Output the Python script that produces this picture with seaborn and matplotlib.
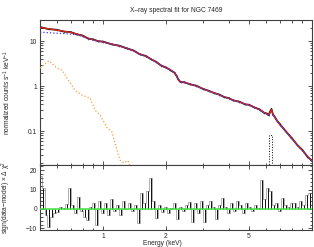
import numpy as np
import pandas as pd
import seaborn as sns
import matplotlib.pyplot as plt
from matplotlib.ticker import FixedLocator, FixedFormatter, NullFormatter

#%% values

# top panel: energy grid (keV), data, total model and the power-law component
energy = [0.50, 0.55, 0.60, 0.65, 0.70, 0.75, 0.80, 0.85, 0.90, 0.95, 1.00, 1.10,
          1.20, 1.30, 1.40, 1.50, 1.60, 1.70, 1.80, 1.90, 2.00, 2.10, 2.20, 2.25,
          2.30, 2.35, 2.45, 2.60, 2.80, 3.00, 3.20, 3.40, 3.60, 3.80, 4.00, 4.20,
          4.50, 4.80, 5.00, 5.30, 5.60, 5.90, 6.10, 6.20, 6.30, 6.40, 6.50, 6.60,
          6.80, 7.00, 7.50, 8.00, 8.50, 9.00, 9.50, 10.0]
counts = [20.6, 18.5, 17.9, 16.3, 15.9, 14.2, 13.3, 11.4, 10.9, 9.9, 9.8, 8.5,
          7.9, 6.9, 6.2, 5.1, 4.7, 3.95, 3.45, 2.85, 2.6, 2.28, 1.98, 1.68,
          1.37, 1.23, 1.22, 1.10, 1.02, 0.87, 0.79, 0.70, 0.65, 0.57, 0.54, 0.48,
          0.45, 0.39, 0.385, 0.335, 0.305, 0.255, 0.245, 0.225, 0.27, 0.31, 0.235, 0.215,
          0.17, 0.145, 0.098, 0.070, 0.049, 0.038, 0.027, 0.022]
model = [20.0, 18.8, 17.6, 16.6, 15.6, 14.5, 13.0, 11.6, 10.7, 10.1, 9.6, 8.6,
         7.8, 7.0, 6.1, 5.2, 4.6, 4.0, 3.4, 2.9, 2.55, 2.3, 1.95, 1.7,
         1.35, 1.25, 1.2, 1.12, 1.0, 0.88, 0.78, 0.71, 0.64, 0.58, 0.53, 0.49,
         0.44, 0.40, 0.38, 0.34, 0.30, 0.26, 0.24, 0.23, 0.26, 0.30, 0.24, 0.21,
         0.175, 0.14, 0.10, 0.068, 0.050, 0.037, 0.028, 0.021]
powerlaw = [15.8, 15.4, 15.0, 14.7, 14.3, 13.8, 12.6, 11.4, 10.5, 10.0, 9.5, 8.55,
            7.75, 6.95, 6.05, 5.15, 4.55, 3.97, 3.38, 2.88, 2.53, 2.28, 1.93, 1.69,
            1.34, 1.24, 1.19, 1.11, 0.99, 0.875, 0.775, 0.705, 0.635, 0.575, 0.525, 0.485,
            0.435, 0.395, 0.375, 0.335, 0.295, 0.255, 0.235, 0.222, 0.225, 0.226, 0.226, 0.207,
            0.172, 0.138, 0.099, 0.067, 0.049, 0.036, 0.0275, 0.0207]

# soft component (orange dotted)
soft_e = [0.50, 0.552, 0.603, 0.637, 0.673, 0.735, 0.794, 0.869, 0.917, 0.967,
          1.046, 1.104, 1.206, 1.26, 1.316, 1.36]
soft_v = [2.5, 3.65, 2.5, 2.27, 1.5, 0.81, 0.63, 0.54, 0.29, 0.23,
          0.12, 0.096, 0.0227, 0.0197, 0.022, 0.015]

# iron line (black dotted)
line_e = [6.20, 6.24, 6.24, 6.44, 6.44, 6.48]
line_v = [0.001, 0.001, 0.08, 0.08, 0.001, 0.001]

# bottom panel: sign(data-model) * delta chi^2
res_e = [0.500, 0.517, 0.534, 0.552, 0.570, 0.590, 0.609, 0.630, 0.651, 0.673,
         0.695, 0.719, 0.743, 0.768, 0.793, 0.820, 0.848, 0.876, 0.905, 0.936,
         0.967, 1.000, 1.033, 1.068, 1.104, 1.141, 1.179, 1.219, 1.260, 1.302,
         1.346, 1.391, 1.438, 1.486, 1.536, 1.588, 1.641, 1.696, 1.753, 1.812,
         1.873, 1.936, 2.001, 2.068, 2.138, 2.210, 2.284, 2.361, 2.440, 2.522,
         2.607, 2.694, 2.785, 2.878, 2.975, 3.075, 3.178, 3.285, 3.395, 3.509,
         3.627, 3.749, 3.875, 4.005, 4.140, 4.279, 4.422, 4.571, 4.725, 4.883,
         5.047, 5.217, 5.392, 5.573, 5.761, 5.954, 6.154, 6.361, 6.575, 6.796,
         7.024, 7.260, 7.504, 7.756, 8.017, 8.286, 8.565, 8.852, 9.150, 9.457,
         9.775, 10.0]
res_v = [17, 11, -3, -9.5, -4, -2, -1.5, 1, 0.5, 2.5,
         11, 2, -2, 6, -1, -4, -5.5, 1, 3, -8,
         4, -2, 3, -3, 5, -1, 2, -3, 4, 0,
         3, -1, 2, -7, 8, 3, 9, 16, 4, -4.5,
         2, -1.5, 1, -2, 0.5, 3, -5, 1, -1, 2,
         3.5, -6.5, 3, -2, 4, -6.5, 2, 4, 1, -5,
         2, 5.5, 1, -2, 3, -1, 4, 2, -2, 3,
         1, -1, 2, 0.5, 15, 5, 11, 9, 2, 3,
         -1, 5.5, 2, 1, 3, 3, 1, 4, 2, 7,
         8, 8]

#%% plot

sns.set_theme(style='ticks')
plt.rcParams['font.family'] = ['Liberation Sans', 'DejaVu Sans']
plt.rcParams['mathtext.fontset'] = 'custom'
plt.rcParams['mathtext.rm'] = 'Liberation Sans'
plt.rcParams['mathtext.it'] = 'Liberation Sans'

fs = 4.8
spec = pd.DataFrame({'energy': energy, 'counts': counts, 'model': model, 'powerlaw': powerlaw})
soft = pd.DataFrame({'energy': soft_e, 'value': soft_v})
fe = pd.DataFrame({'energy': line_e, 'value': line_v})
res = pd.DataFrame({'energy': res_e, 'chi': res_v})

fig = plt.figure(figsize=(3.14, 2.47), dpi=100)
ax1 = fig.add_axes([40 / 314, 1 - 165 / 247, 272 / 314, 145 / 247])
ax2 = fig.add_axes([40 / 314, 1 - 230 / 247, 272 / 314, 65 / 247], sharex=ax1)

# data with error bars
ax1.errorbar(spec.energy, spec.counts, yerr=spec.counts * 0.05, fmt='none',
             ecolor='0.45', elinewidth=0.6, zorder=1)
sns.lineplot(data=spec, x='energy', y='counts', ax=ax1, color='0.1', lw=1.3,
             sort=False, estimator=None, zorder=2)
sns.lineplot(data=spec, x='energy', y='model', ax=ax1, color='#e3221b', lw=0.9,
             sort=False, estimator=None, zorder=3)
sns.lineplot(data=spec, x='energy', y='powerlaw', ax=ax1, color='#3b3bff', lw=0.9,
             linestyle=':', sort=False, estimator=None, zorder=4)
sns.lineplot(data=soft, x='energy', y='value', ax=ax1, color='#ff9a3c', lw=0.9,
             linestyle=':', sort=False, estimator=None, zorder=4)
sns.lineplot(data=fe, x='energy', y='value', ax=ax1, color='black', lw=0.7,
             linestyle=':', sort=False, estimator=None, zorder=4)

# residuals: spikes from zero plus a thin step outline
ax2.vlines(res.energy, 0, res.chi, color='0.05', lw=0.7, zorder=2)
sns.lineplot(data=res, x='energy', y='chi', ax=ax2, color='0.45', lw=0.4,
             drawstyle='steps-mid', sort=False, estimator=None, zorder=1)
ax2.axhline(0, color='#3ee03e', lw=1.1, zorder=3)

ax1.set_xscale('log')
ax1.set_yscale('log')
ax1.set_xlim(0.5, 10)
ax1.set_ylim(0.0176, 29.5)
ax2.set_ylim(-10.8, 22.6)

for ax in (ax1, ax2):
    ax.tick_params(which='both', direction='in', top=True, right=True,
                   labelsize=fs, pad=2, color='0.2', width=0.6)
    ax.tick_params(which='major', length=3)
    ax.tick_params(which='minor', length=1.8)
    for s in ax.spines.values():
        s.set_linewidth(0.8)
        s.set_color('0.25')
    ax.set_xlabel('')
    ax.set_ylabel('')

ax2.xaxis.set_major_locator(FixedLocator([1, 2, 5]))
ax2.xaxis.set_major_formatter(FixedFormatter(['1', '2', '5']))
ax2.xaxis.set_minor_locator(FixedLocator([0.6, 0.7, 0.8, 0.9, 3, 4, 6, 7, 8, 9]))
ax2.xaxis.set_minor_formatter(NullFormatter())
ax1.tick_params(axis='x', which='both', labelbottom=False)

ax1.yaxis.set_major_locator(FixedLocator([0.1, 1, 10]))
ax1.yaxis.set_major_formatter(FixedFormatter(['0.1', '1', '10']))
ax1.yaxis.set_minor_locator(FixedLocator([0.02, 0.03, 0.04, 0.05, 0.06, 0.07, 0.08, 0.09,
                                          0.2, 0.3, 0.4, 0.5, 0.6, 0.7, 0.8, 0.9,
                                          2, 3, 4, 5, 6, 7, 8, 9, 20]))
ax1.yaxis.set_minor_formatter(NullFormatter())

ax2.yaxis.set_major_locator(FixedLocator([-10, 0, 10, 20]))
ax2.yaxis.set_minor_locator(FixedLocator([-8, -6, -4, -2, 2, 4, 6, 8, 12, 14, 16, 18, 22]))

ax1.set_title('X\u2013ray spectral fit for NGC 7469', fontsize=fs, pad=6)
ax1.set_ylabel('normalized counts s$^{-1}$ keV$^{-1}$', fontsize=fs)
ax2.set_ylabel('sign(data\u2212model) \u00d7 \u0394 \u03c7$^2$', fontsize=fs)
ax2.set_xlabel('Energy (keV)', fontsize=fs, labelpad=1)
ax1.yaxis.set_label_coords(-0.1, 0.5)
ax2.yaxis.set_label_coords(-0.1, 0.5)
ax2.xaxis.set_label_coords(0.45, -0.15)

fig.savefig('out.png', dpi=100)
